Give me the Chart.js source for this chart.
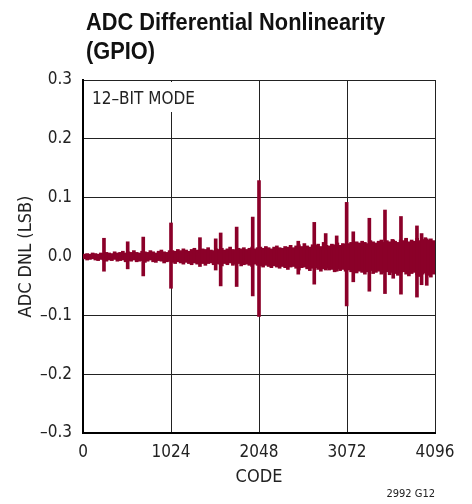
<!DOCTYPE html>
<html>
<head>
<meta charset="utf-8">
<script src="https://cdn.jsdelivr.net/npm/chart.js@4.4.1/dist/chart.umd.min.js"></script>
<style>
  html, body { margin: 0; padding: 0; background: #fff; }
</style>
</head>
<body>
<canvas id="dnlChart" width="472" height="504"></canvas>
<script>
const FONT = "'DejaVu Sans Condensed', 'Liberation Sans', sans-serif";
const HEAD_FONT = "'Liberation Sans', Arial, sans-serif";
const RED = 'rgb(139, 0, 41)';

// axis ticks
const xTicks = [0, 1024, 2048, 3072, 4096];
const xTickLabels = ['0', '1024', '2048', '3072', '4096'];
const yTicks = [-0.3, -0.2, -0.1, 0, 0.1, 0.2, 0.3];
const yTickLabels = ['\u20130.3', '\u20130.2', '\u20130.1', '0.0', '0.1', '0.2', '0.3'];

// dense noise band, one min/max pair per 32 codes
const bandHi = [
  0.004, 0.005, 0.004, 0.006, 0.005, 0.004, 0.006, 0.005, 0.007, 0.006, 0.005, 0.008, 0.006, 0.007, 0.009, 0.006,
  0.008, 0.007, 0.010, 0.007, 0.006, 0.009, 0.008, 0.007, 0.010, 0.008, 0.006, 0.009, 0.011, 0.008, 0.007, 0.010,
  0.010, 0.009, 0.012, 0.010, 0.013, 0.011, 0.009, 0.012, 0.014, 0.011, 0.010, 0.013, 0.012, 0.015, 0.011, 0.010,
  0.013, 0.012, 0.014, 0.011, 0.013, 0.016, 0.012, 0.011, 0.014, 0.013, 0.015, 0.012, 0.014, 0.016, 0.013, 0.015,
  0.016, 0.014, 0.017, 0.015, 0.013, 0.016, 0.018, 0.015, 0.014, 0.017, 0.016, 0.019, 0.015, 0.018, 0.020, 0.017,
  0.022, 0.018, 0.016, 0.020, 0.019, 0.021, 0.017, 0.024, 0.019, 0.018, 0.021, 0.020, 0.023, 0.019, 0.022, 0.021,
  0.022, 0.024, 0.021, 0.025, 0.023, 0.026, 0.024, 0.022, 0.027, 0.025, 0.023, 0.026, 0.028, 0.024, 0.027, 0.025,
  0.029, 0.026, 0.024, 0.028, 0.027, 0.030, 0.025, 0.028, 0.026, 0.031, 0.027, 0.029, 0.032, 0.028, 0.030, 0.027
];
const bandLo = [
  -0.004, -0.006, -0.005, -0.004, -0.006, -0.007, -0.005, -0.006, -0.008, -0.006, -0.007, -0.005, -0.008, -0.007, -0.006, -0.009,
  -0.007, -0.008, -0.006, -0.009, -0.008, -0.007, -0.010, -0.008, -0.006, -0.009, -0.010, -0.007, -0.008, -0.011, -0.009, -0.008,
  -0.010, -0.012, -0.009, -0.011, -0.013, -0.010, -0.012, -0.014, -0.011, -0.013, -0.010, -0.012, -0.015, -0.012, -0.011, -0.014,
  -0.012, -0.013, -0.016, -0.012, -0.014, -0.011, -0.015, -0.013, -0.012, -0.016, -0.014, -0.013, -0.015, -0.017, -0.013, -0.015,
  -0.016, -0.018, -0.015, -0.017, -0.019, -0.016, -0.018, -0.020, -0.017, -0.019, -0.022, -0.018, -0.017, -0.020, -0.023, -0.019,
  -0.018, -0.021, -0.024, -0.020, -0.019, -0.022, -0.025, -0.021, -0.020, -0.023, -0.022, -0.026, -0.021, -0.024, -0.022, -0.025,
  -0.023, -0.026, -0.024, -0.028, -0.025, -0.027, -0.030, -0.026, -0.024, -0.029, -0.027, -0.025, -0.030, -0.028, -0.026, -0.031,
  -0.027, -0.029, -0.032, -0.028, -0.026, -0.030, -0.033, -0.029, -0.027, -0.031, -0.034, -0.030, -0.028, -0.032, -0.035, -0.030
];

// isolated large codes
const spikeCodes = [244, 520, 701, 1024, 1361, 1544, 1602, 1788, 1975, 2048, 2505, 2691, 2824, 2952,
  3068, 3145, 3332, 3514, 3610, 3700, 3760, 3886, 3940, 4000];
const spikeHi = [0.031, 0.025, 0.033, 0.057, 0.032, 0.030, 0.040, 0.050, 0.067, 0.129, 0.026, 0.058, 0.039, 0.035,
  0.092, 0.042, 0.065, 0.079, 0.028, 0.068, 0.031, 0.052, 0.039, 0.030];
const spikeLo = [-0.025, -0.021, -0.033, -0.054, -0.017, -0.023, -0.050, -0.051, -0.067, -0.102, -0.030, -0.047, -0.023, -0.025,
  -0.084, -0.043, -0.059, -0.063, -0.037, -0.064, -0.025, -0.069, -0.048, -0.049];

const bandData = bandHi.map((hi, i) => ({ x: i * 32 + 16, y: [bandLo[i], hi] }));
const spikeData = spikeCodes.map((c, i) => ({ x: c, y: [spikeLo[i], spikeHi[i]] }));

// squeeze a string horizontally to a given width (condensed look)
function narrowText(ctx, text, x, y, width) {
  const w = ctx.measureText(text).width;
  ctx.save();
  ctx.translate(x, y);
  ctx.scale(width / w, 1);
  ctx.fillText(text, 0, 0);
  ctx.restore();
}

// titles and the mode label drawn on top of the chart
const labels = {
  id: 'labels',
  afterDatasetsDraw(chart) {
    const ctx = chart.ctx;
    const area = chart.chartArea;
    ctx.save();
    // white box behind the mode label
    ctx.fillStyle = '#fff';
    ctx.fillRect(area.left + 3, area.top + 2, 116, 30);
    ctx.fillStyle = '#222';
    ctx.textBaseline = 'middle';
    ctx.font = "17px " + FONT;
    ctx.fillText('12\u2013BIT MODE', area.left + 9, area.top + 20);
    ctx.restore();
  },
  afterDraw(chart) {
    const ctx = chart.ctx;
    const area = chart.chartArea;
    ctx.save();
    ctx.fillStyle = '#111';
    ctx.textBaseline = 'alphabetic';
    ctx.font = "bold 23px " + HEAD_FONT;
    const s = 299 / ctx.measureText('ADC Differential Nonlinearity').width;
    narrowText(ctx, 'ADC Differential Nonlinearity', 86, 29.5, 299);
    narrowText(ctx, '(GPIO)', 86, 59, ctx.measureText('(GPIO)').width * s);

    ctx.fillStyle = '#222';
    ctx.font = "18px " + FONT;
    ctx.textAlign = 'center';
    ctx.textBaseline = 'middle';
    ctx.fillText('CODE', (area.left + area.right) / 2, 477);

    ctx.font = "11px " + FONT;
    ctx.textAlign = 'right';
    ctx.fillText('2992 G12', area.right, 494);

    ctx.translate(26, (area.top + area.bottom) / 2);
    ctx.rotate(-Math.PI / 2);
    ctx.font = "18px " + FONT;
    ctx.textAlign = 'center';
    ctx.fillText('ADC DNL (LSB)', 0, 0);
    ctx.restore();
  }
};

Chart.defaults.font.family = FONT;
Chart.defaults.color = '#222';

new Chart(document.getElementById('dnlChart').getContext('2d'), {
  type: 'bar',
  data: {
    datasets: [
      { data: bandData, backgroundColor: RED, barThickness: 3, grouped: false },
      { data: spikeData, backgroundColor: RED, barThickness: 3, grouped: false }
    ]
  },
  options: {
    responsive: false,
    animation: false,
    layout: { padding: { top: 80, right: 37, left: 0, bottom: 0 } },
    plugins: { legend: { display: false }, tooltip: { enabled: false } },
    scales: {
      x: {
        type: 'linear',
        min: 0,
        max: 4096,
        offset: false,
        afterBuildTicks: (s) => { s.ticks = xTicks.map(v => ({ value: v })); },
        afterFit: (s) => { s.height = 71; },
        ticks: {
          font: { size: 17 },
          padding: 9,
          maxRotation: 0,
          autoSkip: false,
          callback: (v, i) => xTickLabels[i]
        },
        grid: { color: '#222', lineWidth: 1, drawTicks: false, offset: false },
        border: { color: '#000', width: 2 }
      },
      y: {
        min: -0.3,
        max: 0.3,
        afterBuildTicks: (s) => { s.ticks = yTicks.map(v => ({ value: v })); },
        afterFit: (s) => { s.width = 83; },
        ticks: {
          font: { size: 17 },
          padding: 11,
          callback: (v, i) => yTickLabels[i]
        },
        grid: { color: '#222', lineWidth: 1, drawTicks: false },
        border: { color: '#000', width: 2 }
      }
    }
  },
  plugins: [labels]
});
</script>
</body>
</html>
